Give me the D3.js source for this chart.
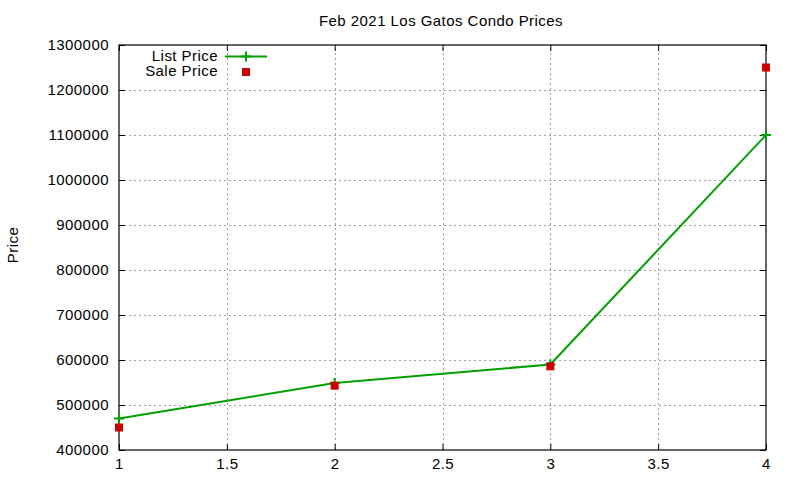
<!DOCTYPE html>
<html>
<head>
<meta charset="utf-8">
<script src="https://cdn.jsdelivr.net/npm/d3@7"></script>
<style>
  body { margin: 0; background: #fff; }
  svg text { font-family: "Liberation Sans", Arial, sans-serif; font-size: 15px; letter-spacing: 0.45px; fill: #000; }
</style>
</head>
<body>
<div id="chart"></div>
<script>
// data
const unitsSold = [1, 2, 3, 4];
const listPrice = [470000, 549000, 590000, 1100000];
const salePrice = [450000, 543000, 586000, 1250000];
const xTicks = [1, 1.5, 2, 2.5, 3, 3.5, 4];
const yTicks = [400000, 500000, 600000, 700000, 800000, 900000, 1000000, 1100000, 1200000, 1300000];

const width = 800, height = 480;
const margin = {top: 45, right: 34, bottom: 30, left: 119};

const svg = d3.select('#chart').append('svg')
    .attr('width', width).attr('height', height);

const x = d3.scaleLinear().domain([1, 4]).range([margin.left, width - margin.right]);
const y = d3.scaleLinear().domain([400000, 1300000]).range([height - margin.bottom, margin.top]);

// grid
const grid = svg.append('g').attr('stroke', '#a0a0a0').attr('stroke-dasharray', '2,3').attr('stroke-width', 1);
grid.selectAll('.gx').data(xTicks.slice(1, -1)).join('line')
    .attr('x1', d => Math.round(x(d)) + 0.5).attr('x2', d => Math.round(x(d)) + 0.5)
    .attr('y1', y.range()[0]).attr('y2', y.range()[1]);
grid.selectAll('.gy').data(yTicks.slice(1, -1)).join('line')
    .attr('x1', x.range()[0]).attr('x2', x.range()[1])
    .attr('y1', d => Math.round(y(d)) + 0.5).attr('y2', d => Math.round(y(d)) + 0.5);

// axes, ticks pointing inward like gnuplot
const bottomAxis = d3.axisBottom(x).tickValues(xTicks).tickSize(-6).tickPadding(8).tickFormat(d3.format('~g'));
const leftAxis = d3.axisLeft(y).tickValues(yTicks).tickSize(-6).tickPadding(10).tickFormat(d3.format('d'));

svg.append('g').attr('transform', `translate(0,${height - margin.bottom})`).call(bottomAxis);
svg.append('g').attr('transform', `translate(${margin.left},0)`).call(leftAxis);
svg.append('g').attr('transform', `translate(0,${margin.top})`)
    .call(d3.axisTop(x).tickValues(xTicks).tickSize(-6).tickFormat(''));
svg.append('g').attr('transform', `translate(${width - margin.right},0)`)
    .call(d3.axisRight(y).tickValues(yTicks).tickSize(-6).tickFormat(''));

svg.selectAll('.domain').remove();
svg.selectAll('.tick text').style('font-size', '15px').attr('fill', '#000');
svg.selectAll('.tick line').attr('stroke', '#000');

// frame
svg.append('rect')
    .attr('x', margin.left).attr('y', margin.top)
    .attr('width', x.range()[1] - x.range()[0])
    .attr('height', y.range()[0] - y.range()[1])
    .attr('fill', 'none').attr('stroke', '#000').attr('stroke-width', 1.2);

const green = '#00a000', red = '#cc0000';

// list price line with + markers
const line = d3.line().x((d, i) => x(unitsSold[i])).y(d => y(d));
svg.append('path').datum(listPrice)
    .attr('d', line).attr('fill', 'none').attr('stroke', green).attr('stroke-width', 2);

const plus = svg.append('g').attr('stroke', green).attr('stroke-width', 2);
plus.selectAll('path').data(listPrice).join('path')
    .attr('d', (d, i) => `M${x(unitsSold[i]) - 5},${y(d)}h10M${x(unitsSold[i])},${y(d) - 5}v10`);

// sale price squares
svg.append('g').selectAll('rect').data(salePrice).join('rect')
    .attr('x', (d, i) => x(unitsSold[i]) - 4)
    .attr('y', d => y(d) - 4)
    .attr('width', 8).attr('height', 8)
    .attr('fill', red);

// legend
const legend = svg.append('g');
legend.append('text').attr('x', 218).attr('y', 61).attr('text-anchor', 'end').text('List Price');
legend.append('line').attr('x1', 225).attr('x2', 267).attr('y1', 56.5).attr('y2', 56.5)
    .attr('stroke', green).attr('stroke-width', 2);
legend.append('path').attr('d', 'M241,56.5h10M246,51.5v10').attr('stroke', green).attr('stroke-width', 2);
legend.append('text').attr('x', 218).attr('y', 76).attr('text-anchor', 'end').text('Sale Price');
legend.append('rect').attr('x', 242).attr('y', 68).attr('width', 8).attr('height', 8).attr('fill', red);

// title and axis label
svg.append('text').attr('x', 441).attr('y', 26).attr('text-anchor', 'middle').text('Feb 2021 Los Gatos Condo Prices');
svg.append('text').attr('transform', 'translate(18,245) rotate(-90)').attr('text-anchor', 'middle').text('Price');
</script>
</body>
</html>
